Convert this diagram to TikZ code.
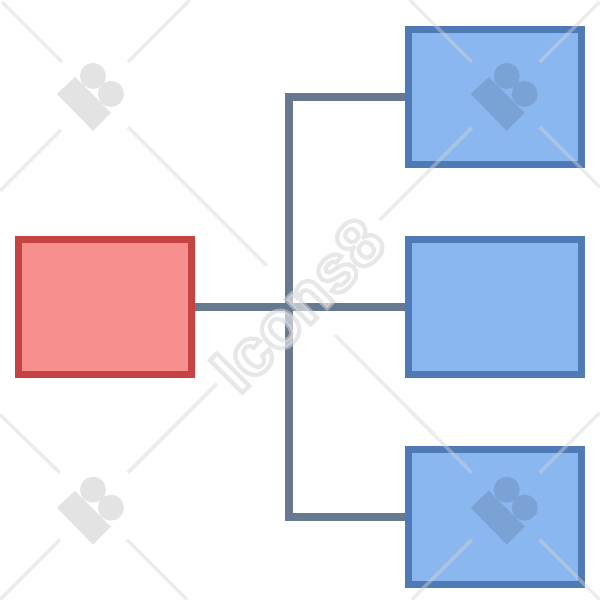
\documentclass[tikz,border=0pt]{standalone}
\usepackage{fontspec}
\setmainfont{Liberation Sans}
\usetikzlibrary{positioning}
\definecolor{rootline}{HTML}{C74343}
\definecolor{rootfill}{HTML}{F78F8F}
\definecolor{leafline}{HTML}{4E7AB5}
\definecolor{leaffill}{HTML}{8BB7F0}
\definecolor{linkline}{HTML}{66798F}
\definecolor{stampline}{HTML}{D4D4D4}

\begin{document}
\begin{tikzpicture}[
  node distance=0.68cm,
  box/.style={draw, line width=0.07cm, minimum width=1.73cm, minimum height=1.35cm},
  root/.style={box, draw=rootline, fill=rootfill},
  leaf/.style={box, draw=leafline, fill=leaffill},
  link/.style={draw=linkline, line width=0.075cm},
  stampcut/.style={draw=stampline, line width=0.035cm, opacity=0.45},
  stampword/.style={rotate=45, inner sep=0, text=white, font=\bfseries\fontsize{19}{19}\selectfont}
]
  \useasboundingbox (0,0) rectangle (6,6);
  \node[root] (source) at (1.05,2.93) {};
  \node[leaf, right=2.1cm of source] (middle) {};
  \node[leaf, above=of middle] (upper) {};
  \node[leaf, below=of middle] (lower) {};
  \coordinate (bus) at (2.89,2.93);
  \draw[link] (source) -- (middle);
  \draw[link] (upper) -| (bus);
  \draw[link] (lower) -| (bus);
  % stamp over the diagram, in pixels from the top left
  \begin{scope}[shift={(0,6)}, x=0.01cm, y=-0.01cm]
    \foreach \ax/\ay/\bx/\by in {62/62/2/2, 128/62/190/0, 61/130/0/191, 128/127/267/266,
      472/62/410/0, 540/62/600/2, 472/128/380/220, 540/127/600/187,
      60/473/0/415, 128/473/217/384, 60/540/0/600, 127/540/187/600,
      472/473/335/335, 540/473/600/413, 472/540/412/600, 540/540/600/600}
      \draw[stampcut] (\ax,\ay) -- (\bx,\by);
    \foreach \tx/\ty in {0/0, 414/0, 0/414, 414/414}
      \fill[black, opacity=0.11, shift={(\tx,\ty)}] (57,94) -- (75,77) -- (111,113) -- (93,131) -- cycle
        (93,76) circle (13) (111,94) circle (13);
    \node[stampword, opacity=0.55] (stamp) at (298,305)
      {\special{pdf:code 2 Tr 1.2 w 0.83 G}Icons8\special{pdf:code 0 Tr}};
  \end{scope}
\end{tikzpicture}
\end{document}
